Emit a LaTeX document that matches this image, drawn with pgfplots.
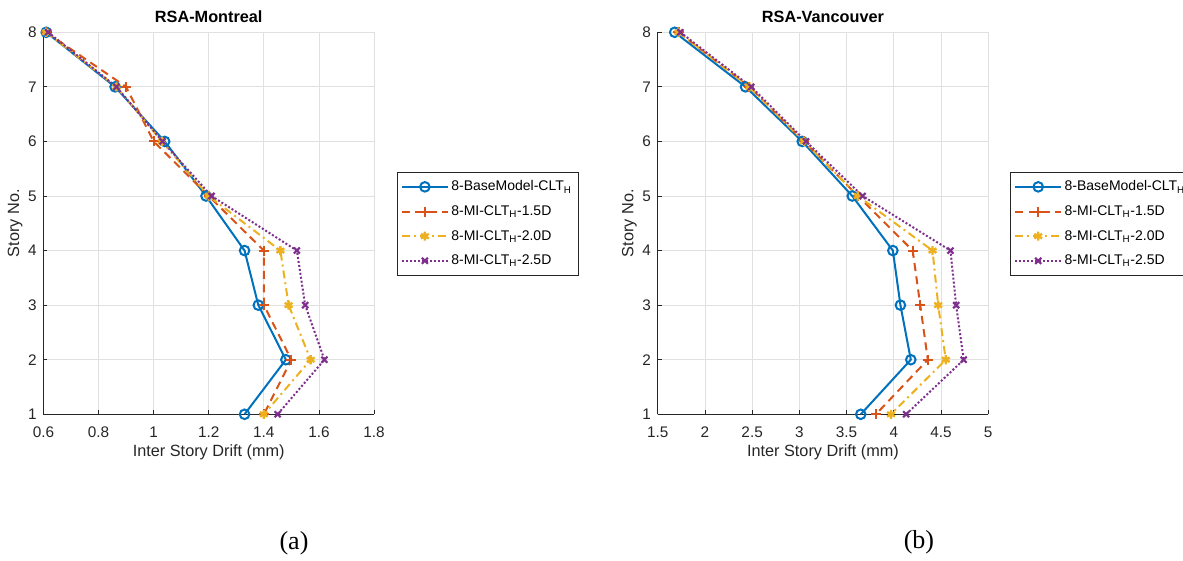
\documentclass[border=0pt]{standalone}
\usepackage{fontspec}
\setmainfont{Liberation Sans}
\newfontfamily\capfont{Liberation Serif}
\usepackage{pgfplots}
\pgfplotsset{compat=1.18}

% MATLAB default line colours
\definecolor{mblue}{rgb}{0,0.447,0.741}
\definecolor{morange}{rgb}{0.850,0.325,0.098}
\definecolor{myellow}{rgb}{0.929,0.694,0.125}
\definecolor{mpurple}{rgb}{0.494,0.184,0.556}
\definecolor{axgray}{HTML}{262626}
\definecolor{gridgray}{HTML}{E0E0E0}

\pgfplotsset{
  driftaxis/.style={
    scale only axis, width=247.9pt, height=286.5pt,
    ymin=1, ymax=8, ytick={1,...,8},
    axis x line*=bottom, axis y line*=left,
    axis line style={-, color=axgray, line width=0.6pt},
    tick align=inside, major tick length=3pt,
    tick style={color=axgray, line width=0.6pt},
    grid=major, grid style={color=gridgray, line width=0.6pt},
    tick label style={font=\fontsize{11.5}{13}\selectfont, text=axgray},
    xticklabel style={yshift=-6pt},
    yticklabel style={xshift=-1.5pt},
    /pgf/number format/assume math mode=true,
    xlabel={Inter Story Drift (mm)}, ylabel={Story No.},
    label style={font=\fontsize{12.2}{14}\selectfont, text=axgray},
    xlabel style={at={(axis description cs:0.5,-0.0995)}, anchor=center},
    ylabel style={at={(axis description cs:-0.086,0.5)}, anchor=center},
    title style={font=\bfseries\fontsize{12.2}{14}\selectfont, at={(0.5,1)}, anchor=south, yshift=-2pt},
    legend cell align=left,
    legend style={anchor=north west, draw=axgray, line width=0.6pt, fill=white,
      font=\fontsize{10.5}{12}\selectfont, inner xsep=3pt, inner ysep=4.5pt, row sep=5.6pt},
    legend image code/.code={\draw[mark repeat=2,mark phase=2,##1]
      plot coordinates {(0cm,0cm) (0.6cm,0cm) (1.2cm,0cm)};},
  },
  sbase/.style={color=mblue, solid, line width=1.5pt, mark=o, mark size=3.6pt,
    mark options={solid, line width=1.5pt}},
  sfifteen/.style={color=morange, line width=1.5pt, dash pattern=on 6pt off 4pt,
    mark=+, mark size=3.8pt, mark options={solid, line width=1.6pt}},
  stwenty/.style={color=myellow, line width=1.5pt, dash pattern=on 6pt off 3pt on 1.5pt off 3pt,
    mark=asterisk, mark size=3.4pt, mark options={solid, line width=1.8pt}},
  stwentyfive/.style={color=mpurple, line width=1.5pt, dash pattern=on 1.5pt off 1.5pt,
    mark=x, mark size=3.2pt, mark options={solid, line width=1.6pt}},
}

\begin{document}
\begin{tikzpicture}
\useasboundingbox (-32.6pt,-110pt) rectangle (854.6pt,310.7pt);

% (a) Montreal
\begin{axis}[driftaxis, at={(0,0)},
  title={RSA-Montreal},
  xmin=0.6, xmax=1.8, xtick={0.6,0.8,...,1.8},
  legend style={at={(1.0687,0.635)}},
]
\addplot[sbase] coordinates {(0.61,8) (0.86,7) (1.04,6) (1.19,5) (1.33,4) (1.38,3) (1.48,2) (1.33,1)};
\addplot[sfifteen] coordinates {(0.61,8) (0.90,7) (1.00,6) (1.20,5) (1.40,4) (1.40,3) (1.50,2) (1.40,1)};
\addplot[stwenty] coordinates {(0.61,8) (0.865,7) (1.03,6) (1.20,5) (1.46,4) (1.49,3) (1.57,2) (1.40,1)};
\addplot[stwentyfive] coordinates {(0.617,8) (0.865,7) (1.032,6) (1.21,5) (1.52,4) (1.55,3) (1.62,2) (1.45,1)};
\legend{8-BaseModel-CLT\textsubscript{H}, 8-MI-CLT\textsubscript{H}-1.5D,
  8-MI-CLT\textsubscript{H}-2.0D, 8-MI-CLT\textsubscript{H}-2.5D}
\end{axis}

% (b) Vancouver
\begin{axis}[driftaxis, at={(460.65pt,0)},
  title={RSA-Vancouver},
  xmin=1.5, xmax=5, xtick={1.5,2,...,5},
  legend style={at={(1.066,0.635)}},
]
\addplot[sbase] coordinates {(1.68,8) (2.43,7) (3.03,6) (3.56,5) (3.99,4) (4.07,3) (4.18,2) (3.65,1)};
\addplot[sfifteen] coordinates {(1.72,8) (2.47,7) (3.05,6) (3.62,5) (4.20,4) (4.28,3) (4.36,2) (3.81,1)};
\addplot[stwenty] coordinates {(1.72,8) (2.47,7) (3.05,6) (3.62,5) (4.41,4) (4.47,3) (4.55,2) (3.97,1)};
\addplot[stwentyfive] coordinates {(1.74,8) (2.49,7) (3.07,6) (3.67,5) (4.60,4) (4.66,3) (4.74,2) (4.13,1)};
\legend{8-BaseModel-CLT\textsubscript{H}, 8-MI-CLT\textsubscript{H}-1.5D,
  8-MI-CLT\textsubscript{H}-2.0D, 8-MI-CLT\textsubscript{H}-2.5D}
\end{axis}

\node[font=\capfont\fontsize{19.5}{22}\selectfont] at (187.9pt,-96.5pt) {(a)};
\node[font=\capfont\fontsize{19.5}{22}\selectfont] at (656.6pt,-95.8pt) {(b)};
\end{tikzpicture}
\end{document}
